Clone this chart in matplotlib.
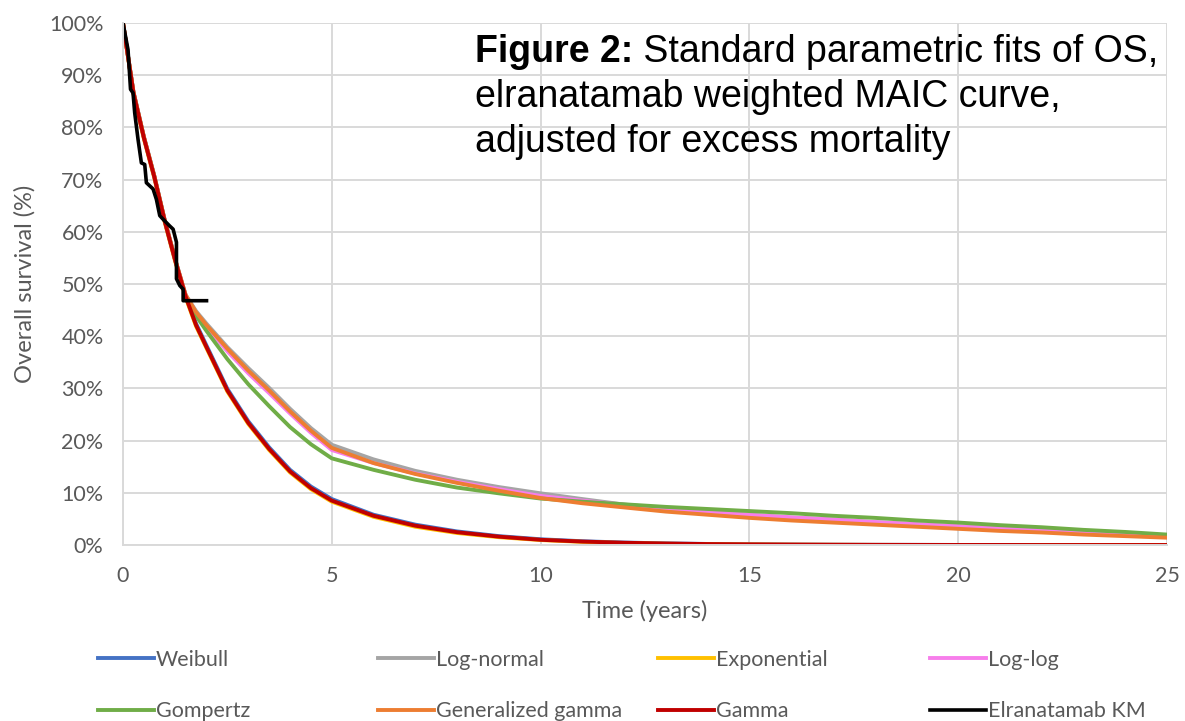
import matplotlib
matplotlib.use("Agg")
import matplotlib.pyplot as plt
from matplotlib.ticker import PercentFormatter

# time grid (years) shared by the parametric fits
years = [0, 0.25, 0.5, 0.75, 1, 1.25, 1.5, 1.75, 2, 2.5, 3, 3.5, 4, 4.5, 5,
         6, 7, 8, 9, 10, 11, 12, 13, 14, 15, 16, 17, 18, 19, 20, 21, 22, 23, 24, 25]

# overall survival (%)
weibull = [100, 86.8, 78.2, 70.7, 62.2, 54.7, 47.8, 42.4, 38.2, 29.9, 23.7, 18.7, 14.4, 11.2, 8.8,
           5.8, 3.9, 2.6, 1.7, 1.1, 0.72, 0.47, 0.31, 0.2, 0.13, 0.08, 0.05, 0.03, 0.02, 0.01, 0.01, 0, 0, 0, 0]
lognormal = [100, 86.7, 78.1, 70.6, 62.1, 54.6, 47.9, 44.8, 42.4, 37.9, 33.9, 30.1, 26.1, 22.4, 19.2,
             16.4, 14.2, 12.5, 11.1, 9.9, 8.8, 7.75, 7.0, 6.35, 5.75, 5.25, 4.85, 4.35, 3.95, 3.55, 3.15, 2.75, 2.35, 1.95, 1.55]
exponential = [100, 86.4, 77.8, 70.3, 61.8, 54.3, 47.4, 41.9, 37.7, 29.4, 23.2, 18.2, 13.9, 10.7, 8.3,
               5.4, 3.5, 2.3, 1.5, 0.95, 0.6, 0.38, 0.24, 0.15, 0.1, 0.06, 0.04, 0.02, 0.01, 0.01, 0, 0, 0, 0, 0]
loglog = [100, 86.7, 78.1, 70.6, 62.1, 54.6, 47.8, 44.4, 41.8, 37.1, 32.9, 29.1, 25.2, 21.5, 18.2,
          15.7, 13.7, 12.1, 10.7, 9.4, 8.5, 7.7, 7.0, 6.4, 5.8, 5.3, 4.9, 4.4, 4.0, 3.6, 3.2, 2.8, 2.4, 2.0, 1.6]
gompertz = [100, 86.7, 78.1, 70.6, 62.1, 54.6, 47.6, 43.9, 41.0, 35.6, 30.8, 26.6, 22.6, 19.3, 16.6,
            14.4, 12.5, 11.0, 9.9, 8.9, 8.3, 7.8, 7.3, 6.9, 6.5, 6.1, 5.6, 5.2, 4.7, 4.3, 3.8, 3.4, 2.9, 2.5, 2.0]
gengamma = [100, 86.8, 78.2, 70.7, 62.2, 54.7, 47.9, 44.6, 42.1, 37.6, 33.4, 29.6, 25.6, 21.9, 18.6,
            15.7, 13.6, 11.9, 10.4, 9.0, 8.0, 7.2, 6.4, 5.8, 5.2, 4.7, 4.3, 3.9, 3.5, 3.1, 2.7, 2.4, 2.0, 1.7, 1.4]
gamma = [100, 86.6, 78.0, 70.5, 62.0, 54.5, 47.6, 42.1, 37.9, 29.6, 23.4, 18.4, 14.1, 10.9, 8.5,
         5.6, 3.7, 2.45, 1.6, 1.0, 0.66, 0.43, 0.28, 0.18, 0.12, 0.08, 0.05, 0.03, 0.02, 0.01, 0.01, 0, 0, 0, 0]

# Kaplan-Meier curve, traced as a polyline
km_t = [0, 0.12, 0.18, 0.24, 0.28, 0.36, 0.44, 0.52, 0.56, 0.72, 0.80, 0.88, 0.96,
        1.12, 1.20, 1.28, 1.28, 1.36, 1.44, 1.44, 2.0]
km_s = [100, 94.9, 87.3, 86.6, 82.8, 77.7, 73.2, 72.9, 69.4, 68.2, 66.2, 63.1, 62.4,
        61.1, 60.5, 58.0, 51.0, 49.7, 49.0, 46.8, 46.8]

series = [
    ("Weibull", weibull, "#4472C4"),
    ("Log-normal", lognormal, "#A5A5A5"),
    ("Exponential", exponential, "#FFC000"),
    ("Log-log", loglog, "#F77EEB"),
    ("Gompertz", gompertz, "#70AD47"),
    ("Generalized gamma", gengamma, "#ED7D31"),
    ("Gamma", gamma, "#C00000"),
]

title_lines = ["elranatamab weighted MAIC curve,", "adjusted for excess mortality"]

grey = "#595959"
plt.rcParams['font.family'] = ['Lato', 'DejaVu Sans']

fig = plt.figure(figsize=(11.85, 7.21), dpi=100)
ax = fig.add_axes([0.1038, 0.2441, 0.8810, 0.7240])

handles = {}
for name, vals, col in series:
    handles[name], = ax.plot(years, vals, color=col, lw=2.8, label=name)
handles["Elranatamab KM"], = ax.plot(km_t, km_s, color="black", lw=2.6, label="Elranatamab KM")

ax.set_xlim(0, 25)
ax.set_ylim(0, 100)
ax.set_xticks([0, 5, 10, 15, 20, 25])
ax.set_yticks(range(0, 101, 10))
ax.yaxis.set_major_formatter(PercentFormatter(decimals=0))
ax.grid(True, color="#D9D9D9", lw=1.4)
ax.set_axisbelow(True)
for s in ["top", "right"]:
    ax.spines[s].set_visible(False)
for s in ["left", "bottom"]:
    ax.spines[s].set_color("#D9D9D9")
    ax.spines[s].set_linewidth(1.4)
ax.tick_params(length=0, labelsize=15.5, colors=grey)
ax.tick_params(axis="x", pad=15)
ax.tick_params(axis="y", pad=14)
ax.set_xlabel("Time (years)", fontsize=17, color=grey, labelpad=10)
ax.set_ylabel("Overall survival (%)", fontsize=17, color=grey, labelpad=10)

# title inside the plot, one text per line
tsize = 27
t1 = fig.text(475 / 1185, 1 - 62 / 721, "Figure 2:", fontsize=tsize, fontweight="bold",
              family="Liberation Sans", va="baseline", ha="left")
ax.annotate(" Standard parametric fits of OS,", xy=(1, 0), xycoords=t1, va="bottom", ha="left",
            fontsize=tsize, family="Liberation Sans")
for i, line in enumerate(title_lines):
    fig.text(475 / 1185, 1 - (107 + 45 * i) / 721, line, fontsize=tsize,
             family="Liberation Sans", va="baseline", ha="left")

# legend: four columns of two entries
cols = [("Weibull", "Gompertz"), ("Log-normal", "Generalized gamma"),
        ("Exponential", "Gamma"), ("Log-log", "Elranatamab KM")]
col_x = [98, 378, 658, 930]
for (a, b), x in zip(cols, col_x):
    fig.legend([handles[a], handles[b]], [a, b], loc="upper left",
               bbox_to_anchor=(x / 1185, 1 - 650 / 721), frameon=False, fontsize=15.5,
               labelcolor=grey, handlelength=2.6, handletextpad=0.1, labelspacing=1.45,
               borderpad=0, borderaxespad=0)

fig.savefig("out.png", dpi=100)
